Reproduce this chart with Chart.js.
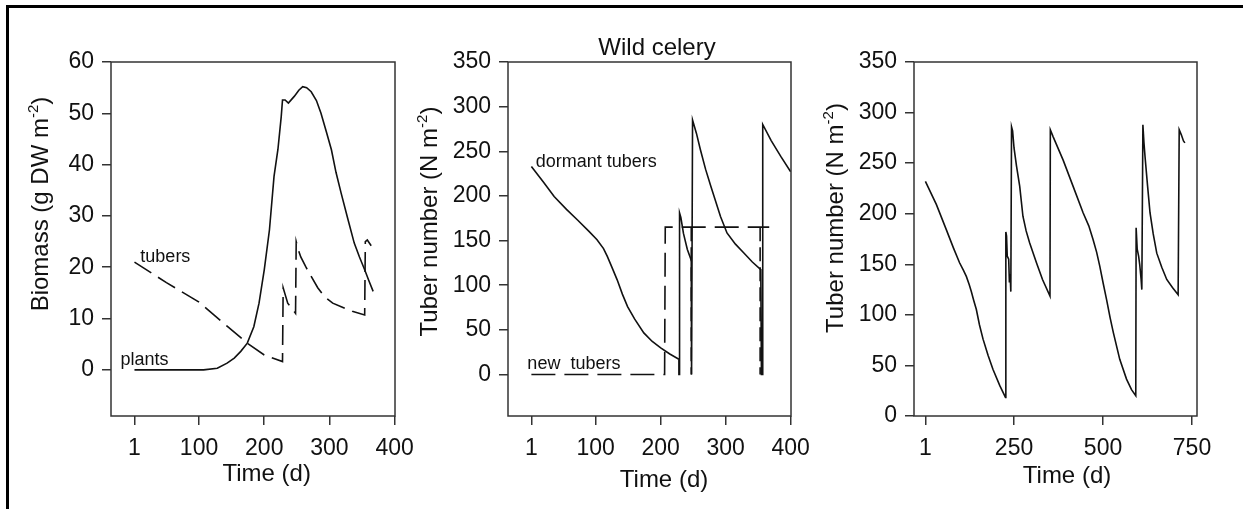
<!DOCTYPE html>
<html>
<head>
<meta charset="utf-8">
<script src="https://cdn.jsdelivr.net/npm/chart.js@4.4.0/dist/chart.umd.min.js"></script>
<style>
html, body { margin: 0; padding: 0; background: #fff; }
#page { position: relative; width: 1243px; height: 509px; overflow: hidden; }
#frame { position: absolute; left: 6px; top: 5px; width: 1300px; height: 600px;
         border-top: 3px solid #000; border-left: 3px solid #000; }
canvas { position: absolute; top: 0; }
</style>
</head>
<body>
<div id="page">
  <div id="frame"></div>
  <canvas id="c1" width="440" height="509" style="left:0px"></canvas>
  <canvas id="c2" width="420" height="509" style="left:415px"></canvas>
  <canvas id="c3" width="433" height="509" style="left:810px"></canvas>
</div>
<script>
var FONT = '"Liberation Sans", Arial, sans-serif';

// panel 1 : biomass over one year
var bioTicksX = [1, 100, 200, 300, 400];
var bioTicksY = [0, 10, 20, 30, 40, 50, 60];
var plantsDay = [1, 60, 107, 128, 143, 154, 164, 174, 184, 192, 200, 208, 215, 221, 226, 228, 232, 237, 246, 253, 259, 265, 272, 280, 287, 295, 303, 310, 318, 328, 338, 346, 354, 360, 367];
var plantsVal = [0, 0, 0, 0.3, 1.3, 2.3, 3.6, 5.2, 8.4, 13, 19.5, 27.3, 37.7, 43, 49.3, 52.6, 52.6, 52, 53.3, 54.5, 55.2, 55, 54.2, 52.5, 50, 46.5, 42.9, 38.5, 34.4, 29.5, 24.7, 22, 19.5, 17.5, 15.3];
var tubersDay = [1, 50, 100, 143, 174, 200, 228, 229, 236, 248, 249, 252, 256, 264, 272, 282, 292, 305, 318, 335, 354, 355, 358, 364];
var tubersVal = [21, 17, 13.2, 8.5, 5.2, 2.9, 1.6, 16, 13, 11, 25, 23.5, 22, 20, 18.2, 16, 14.3, 13, 12.3, 11.4, 10.7, 25, 25.3, 24.2];

// panel 2 : tuber numbers over one year
var numTicksX = [1, 100, 200, 300, 400];
var numTicksY = [0, 50, 100, 150, 200, 250, 300, 350];
var dormantDay = [1, 20, 36, 55, 72, 90, 102, 112, 118, 125, 133, 141, 149, 160, 174, 187, 200, 214, 228, 228, 229, 229, 231, 235, 241, 247, 247, 248, 249, 255, 261, 269, 277, 285, 292, 302, 315, 328, 341, 354, 355, 356, 357, 370, 385, 400];
var dormantVal = [233, 215, 199.4, 185, 173, 160, 151, 141, 132, 120, 106, 90, 76, 62, 46.6, 37, 29.8, 23, 17, 0, 0, 181, 176, 158, 140, 128, 0, 0, 285, 270, 252, 230, 211, 193, 177, 158.5, 146, 136, 126, 117.5, 0, 0, 280, 262, 244, 227];
var newDay = [1, 206, 207, 367];
var newVal = [0, 0, 165, 165];
var dropDay = [247, 247, 300, 353, 353];
var dropVal = [165, 0, null, 165, 0];

// panel 3 : tuber numbers over two years
var longTicksX = [1, 250, 500, 750];
var longTicksY = [0, 50, 100, 150, 200, 250, 300, 350];
var longDay = [1, 32, 60, 80, 97, 108, 116, 124, 130, 137, 144, 153, 163, 177, 191, 210, 226, 227, 229, 231, 235, 237, 239, 241, 243, 246, 250, 257, 266, 275, 284, 294, 313, 330, 351, 352, 360, 388, 416, 444, 460, 472, 482, 491, 500, 510, 520, 529, 547, 566, 580, 592, 593, 596, 600, 603, 607, 609, 612, 615, 618, 625, 632, 641, 651, 665, 679, 695, 711, 714, 720, 726, 730];
var longVal = [232, 209, 184, 166, 151.5, 144, 138, 130, 123, 114, 105.5, 90, 76, 60, 46, 30, 18.4, 182, 178, 158, 155, 132, 140, 123, 286, 282, 265, 247, 227, 197.5, 183, 171, 151.5, 135, 118.6, 283, 276, 253, 227, 201, 188, 174.5, 162, 148, 132, 115, 97, 82.5, 56, 36.5, 26, 20, 186, 165, 158, 150, 135, 125, 288, 270, 256.6, 228, 201, 180, 161, 147, 135, 127, 120, 283, 278, 272, 270];

function pts(xs, ys) {
    return xs.map(function (x, i) { return { x: x, y: ys[i] }; });
}

function line(xs, ys, dash) {
    return {
        data: pts(xs, ys),
        borderColor: '#111',
        borderWidth: 1.6,
        borderDash: dash || [],
        pointRadius: 0,
        fill: false,
        tension: 0,
        spanGaps: false
    };
}

function axis(min, max, ticks, size, isY) {
    return {
        type: 'linear',
        min: min,
        max: max,
        afterBuildTicks: function (s) { s.ticks = ticks.map(function (v) { return { value: v }; }); },
        afterFit: function (s) { if (isY) { s.width = size; } else { s.height = size; } },
        grid: { drawOnChartArea: false, drawTicks: true, tickLength: 9, color: '#333', lineWidth: 1.5 },
        border: { display: false },
        ticks: {
            font: { family: FONT, size: 23 },
            color: '#111',
            padding: isY ? 8 : 10,
            autoSkip: false,
            maxRotation: 0,
            minRotation: 0,
            callback: function (v) { return String(v); }
        }
    };
}

// text with a small raised part, e.g. m^-2
function richText(ctx, parts, x, y, rotated) {
    ctx.save();
    ctx.translate(x, y);
    if (rotated) ctx.rotate(-Math.PI / 2);
    ctx.textBaseline = 'alphabetic';
    ctx.textAlign = 'left';
    var total = 0;
    parts.forEach(function (p) {
        ctx.font = (p.sup ? '15px ' : '24px ') + FONT;
        total += ctx.measureText(p.t).width;
    });
    var cx = -total / 2;
    parts.forEach(function (p) {
        ctx.font = (p.sup ? '15px ' : '24px ') + FONT;
        ctx.fillText(p.t, cx, p.sup ? -10 : 0);
        cx += ctx.measureText(p.t).width;
    });
    ctx.restore();
}

var textPlugin = {
    id: 'texts',
    afterDraw: function (chart, args, opts) {
        var ctx = chart.ctx, a = chart.chartArea;
        var xs = chart.scales.x, ys = chart.scales.y;
        ctx.save();
        ctx.strokeStyle = '#333';
        ctx.lineWidth = 1.5;
        ctx.strokeRect(a.left, a.top, a.right - a.left, a.bottom - a.top);
        ctx.fillStyle = '#111';
        (opts.notes || []).forEach(function (n) {
            ctx.font = '18px ' + FONT;
            ctx.textAlign = 'left';
            ctx.textBaseline = 'alphabetic';
            ctx.fillText(n.text, xs.getPixelForValue(n.x), ys.getPixelForValue(n.y));
        });
        if (opts.xTitle) richText(ctx, [{ t: opts.xTitle.text }], opts.xTitle.x, opts.xTitle.y, false);
        if (opts.yTitle) richText(ctx, opts.yTitle.parts, opts.yTitle.x, opts.yTitle.y, true);
        if (opts.title) richText(ctx, [{ t: opts.title.text }], opts.title.x, opts.title.y, false);
        ctx.restore();
    }
};

function makeChart(id, width, chartLeft, chartRight, datasets, xr, yr, texts) {
    return new Chart(document.getElementById(id), {
        type: 'line',
        data: { datasets: datasets },
        options: {
            responsive: false,
            animation: false,
            layout: { padding: { left: 0, top: 62, right: width - chartRight, bottom: 0 } },
            scales: {
                x: axis(xr[0], xr[1], xr[2], 509 - 416, false),
                y: axis(yr[0], yr[1], yr[2], chartLeft, true)
            },
            plugins: {
                legend: { display: false },
                tooltip: { enabled: false },
                texts: texts
            }
        },
        plugins: [textPlugin]
    });
}

makeChart('c1', 440, 111, 395,
    [line(plantsDay, plantsVal), line(tubersDay, tubersVal, [20, 8])],
    [-35, 400.5, bioTicksX], [-9, 60, bioTicksY],
    {
        notes: [{ text: 'tubers', x: 10, y: 21 }, { text: 'plants', x: -20.5, y: 1 }],
        xTitle: { text: 'Time (d)', x: 266.7, y: 481 },
        yTitle: { parts: [{ t: 'Biomass (g DW m' }, { t: '-2', sup: true }, { t: ')' }], x: 48, y: 204 }
    });

makeChart('c2', 420, 508 - 415, 791 - 415,
    [line(dormantDay, dormantVal), line(newDay, newVal, [24, 9]), line(dropDay, dropVal, [14, 6])],
    [-35, 400.5, numTicksX], [-46.5, 350, numTicksY],
    {
        notes: [{ text: 'dormant tubers', x: 7.6, y: 232.7 }, { text: 'new  tubers', x: -5.2, y: 5.6 }],
        xTitle: { text: 'Time (d)', x: 249, y: 487 },
        yTitle: { parts: [{ t: 'Tuber number (N m' }, { t: '-2', sup: true }, { t: ')' }], x: 22, y: 221.5 },
        title: { text: 'Wild celery', x: 242, y: 55 }
    });

makeChart('c3', 433, 914 - 810, 1197 - 810,
    [line(longDay, longVal)],
    [-31, 764, longTicksX], [0, 350, longTicksY],
    {
        xTitle: { text: 'Time (d)', x: 257, y: 483 },
        yTitle: { parts: [{ t: 'Tuber number (N m' }, { t: '-2', sup: true }, { t: ')' }], x: 33, y: 218 }
    });
</script>
</body>
</html>
